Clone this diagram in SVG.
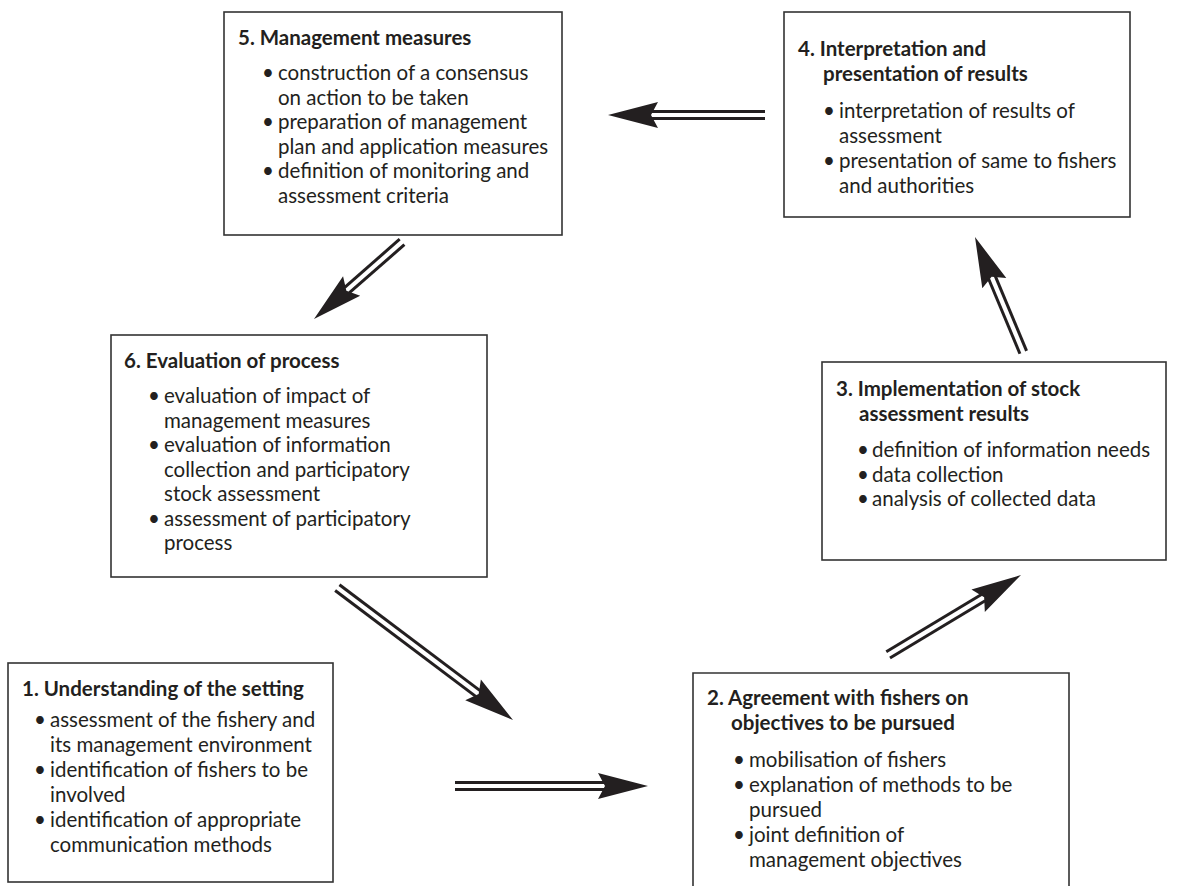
<svg xmlns="http://www.w3.org/2000/svg" xmlns:xlink="http://www.w3.org/1999/xlink" width="1194" height="886" viewBox="0 0 1194 886">
<style>
.box{fill:#fff;stroke:#333;stroke-width:1.6}
.t{font-family:Lato,"Liberation Sans",sans-serif;font-size:20.5px;fill:#231f20}
.h{font-family:Lato,"Liberation Sans",sans-serif;font-size:20.5px;font-weight:bold;fill:#231f20}
.sh{stroke:#231f20;stroke-width:3;fill:none}
.hd{fill:#231f20}
</style>
<defs>
<polygon id="head" class="hd" points="0,0 -50,-13 -43,0 -50,13"/>
</defs>
<rect width="1194" height="886" fill="#fff"/>

<g id="connectors">
<g transform="translate(608,115) rotate(180)"><use xlink:href="#head"/><line class="sh" x1="-157" y1="-3.6" x2="-44" y2="-3.6"/><line class="sh" x1="-157" y1="3.6" x2="-44" y2="3.6"/></g>
<g transform="translate(314,319) rotate(138.8)"><use xlink:href="#head"/><line class="sh" x1="-117" y1="-3.6" x2="-44" y2="-3.6"/><line class="sh" x1="-117" y1="3.6" x2="-44" y2="3.6"/></g>
<g transform="translate(513,720) rotate(37)"><use xlink:href="#head"/><line class="sh" x1="-220" y1="-3.6" x2="-44" y2="-3.6"/><line class="sh" x1="-220" y1="3.6" x2="-44" y2="3.6"/></g>
<g transform="translate(648,786) rotate(0)"><use xlink:href="#head"/><line class="sh" x1="-193" y1="-3.6" x2="-44" y2="-3.6"/><line class="sh" x1="-193" y1="3.6" x2="-44" y2="3.6"/></g>
<g transform="translate(1021,575) rotate(-31)"><use xlink:href="#head"/><line class="sh" x1="-155" y1="-3.6" x2="-44" y2="-3.6"/><line class="sh" x1="-155" y1="3.6" x2="-44" y2="3.6"/></g>
<g transform="translate(975,237) rotate(-112.7)"><use xlink:href="#head"/><line class="sh" x1="-125" y1="-3.6" x2="-44" y2="-3.6"/><line class="sh" x1="-125" y1="3.6" x2="-44" y2="3.6"/></g>
</g>

<g id="node5">
<rect class="box" x="224" y="12" width="338" height="223"/>
<text class="h" x="238" y="45">5. Management measures</text>
<text class="t" x="262" y="80">•</text>
<text class="t" x="278" y="80">construction of a consensus</text>
<text class="t" x="278" y="104.5">on action to be taken</text>
<text class="t" x="262" y="129">•</text>
<text class="t" x="278" y="129">preparation of management</text>
<text class="t" x="278" y="153.5">plan and application measures</text>
<text class="t" x="262" y="178">•</text>
<text class="t" x="278" y="178">definition of monitoring and</text>
<text class="t" x="278" y="202.5">assessment criteria</text>
</g>

<g id="node4">
<rect class="box" x="784" y="12" width="346" height="205"/>
<text class="h" x="798" y="56">4. Interpretation and</text>
<text class="h" x="823" y="81">presentation of results</text>
<text class="t" x="823" y="118">•</text>
<text class="t" x="839" y="118">interpretation of results of</text>
<text class="t" x="839" y="143">assessment</text>
<text class="t" x="823" y="168">•</text>
<text class="t" x="839" y="168">presentation of same to fishers</text>
<text class="t" x="839" y="193">and authorities</text>
</g>

<g id="node6">
<rect class="box" x="111" y="335" width="376" height="242"/>
<text class="h" x="124" y="368">6. Evaluation of process</text>
<text class="t" x="148" y="403">•</text>
<text class="t" x="164" y="403">evaluation of impact of</text>
<text class="t" x="164" y="427.5">management measures</text>
<text class="t" x="148" y="452">•</text>
<text class="t" x="164" y="452">evaluation of information</text>
<text class="t" x="164" y="476.5">collection and participatory</text>
<text class="t" x="164" y="501">stock assessment</text>
<text class="t" x="148" y="525.5">•</text>
<text class="t" x="164" y="525.5">assessment of participatory</text>
<text class="t" x="164" y="550">process</text>
</g>

<g id="node3">
<rect class="box" x="822" y="362" width="344" height="198"/>
<text class="h" x="836" y="396">3. Implementation of stock</text>
<text class="h" x="859" y="421">assessment results</text>
<text class="t" x="857" y="457">•</text>
<text class="t" x="872" y="457">definition of information needs</text>
<text class="t" x="857" y="481.5">•</text>
<text class="t" x="872" y="481.5">data collection</text>
<text class="t" x="857" y="506">•</text>
<text class="t" x="872" y="506">analysis of collected data</text>
</g>

<g id="node1">
<rect class="box" x="8" y="663" width="325" height="219"/>
<text class="h" x="22" y="696">1. Understanding of the setting</text>
<text class="t" x="34" y="727">•</text>
<text class="t" x="50" y="727">assessment of the fishery and</text>
<text class="t" x="50" y="752">its management environment</text>
<text class="t" x="34" y="777">•</text>
<text class="t" x="50" y="777">identification of fishers to be</text>
<text class="t" x="50" y="802">involved</text>
<text class="t" x="34" y="827">•</text>
<text class="t" x="50" y="827">identification of appropriate</text>
<text class="t" x="50" y="852">communication methods</text>
</g>

<g id="node2">
<path class="box" d="M693,887 V673 H1069 V887"/>
<text class="h" x="707" y="705">2. Agreement with fishers on</text>
<text class="h" x="731" y="730">objectives to be pursued</text>
<text class="t" x="733" y="767">•</text>
<text class="t" x="749" y="767">mobilisation of fishers</text>
<text class="t" x="733" y="792">•</text>
<text class="t" x="749" y="792">explanation of methods to be</text>
<text class="t" x="749" y="817">pursued</text>
<text class="t" x="733" y="842">•</text>
<text class="t" x="749" y="842">joint definition of</text>
<text class="t" x="749" y="867">management objectives</text>
</g>
</svg>
